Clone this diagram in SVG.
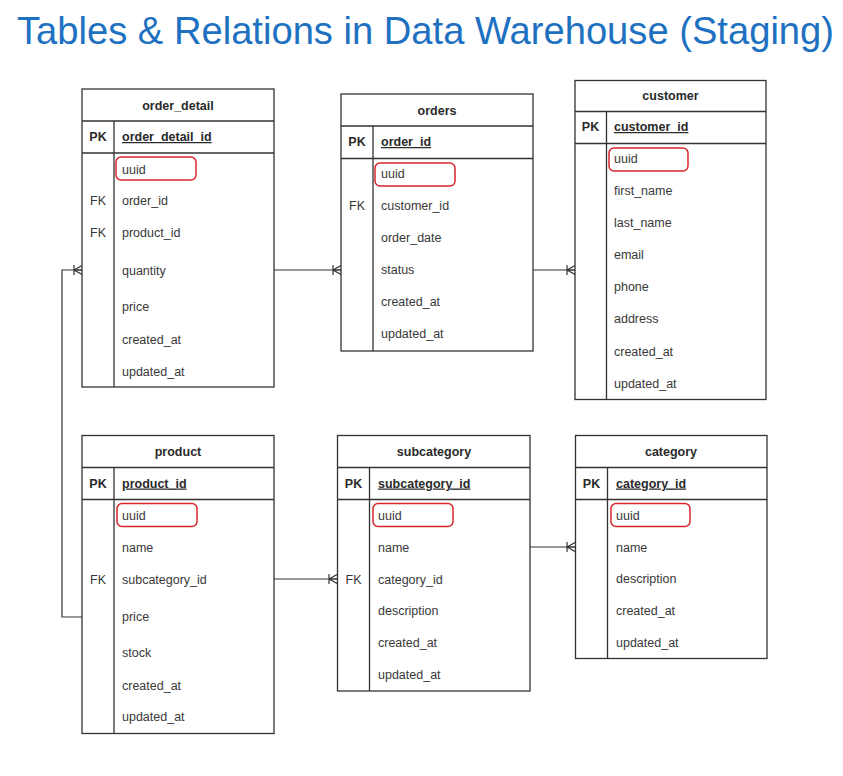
<svg xmlns="http://www.w3.org/2000/svg" width="843" height="776" viewBox="0 0 843 776">
<style>
.bg{fill:#ffffff}
.title{font-family:"Liberation Sans",Arial,sans-serif;font-size:38.2px;fill:#1e70c1}
.box{fill:#ffffff;stroke:#333333;stroke-width:1.3}
.ln{stroke:#333333;stroke-width:1.3;fill:none}
.hd{font-family:"Liberation Sans",Arial,sans-serif;font-size:12.5px;font-weight:bold;fill:#2a2a2a;text-anchor:middle}
.pk{font-family:"Liberation Sans",Arial,sans-serif;font-size:12.5px;font-weight:bold;fill:#2a2a2a;text-anchor:middle}
.pkf{font-family:"Liberation Sans",Arial,sans-serif;font-size:12.5px;font-weight:bold;fill:#2a2a2a;text-decoration:underline}
.f{font-family:"Liberation Sans",Arial,sans-serif;font-size:12.5px;fill:#383838}
.fk{font-family:"Liberation Sans",Arial,sans-serif;font-size:12.5px;fill:#383838;text-anchor:middle}
.hl{fill:none;stroke:#d8262b;stroke-width:1.5}
.conn{stroke:#333333;stroke-width:1.2;fill:none}
</style>
<defs>
<marker id="crow" viewBox="0 0 12 12" refX="12" refY="6" markerWidth="12" markerHeight="12" orient="auto" markerUnits="userSpaceOnUse">
<path d="M4,1 V11 M4,6 L12,1.5 M4,6 L12,10.5 M4,6 H12" fill="none" stroke="#333333" stroke-width="1.2"/>
</marker>
</defs>
<rect class="bg" x="0" y="0" width="843" height="776"/>
<text class="title" x="17" y="44" textLength="817" lengthAdjust="spacingAndGlyphs">Tables &amp; Relations in Data Warehouse (Staging)</text>

<g id="connectors">
<path class="conn" d="M274,270 H341" marker-end="url(#crow)"/>
<path class="conn" d="M533,270 H575" marker-end="url(#crow)"/>
<path class="conn" d="M82,617 H62 V270 H82" marker-end="url(#crow)"/>
<path class="conn" d="M274,579 H337" marker-end="url(#crow)"/>
<path class="conn" d="M530,547 H575" marker-end="url(#crow)"/>
</g>

<g id="order_detail">
<rect class="box" x="82" y="89" width="192" height="298"/>
<path class="ln" d="M82,121 H274 M82,153 H274 M114,121 V387"/>
<text class="hd" x="178" y="109.5">order_detail</text>
<text class="pk" x="98" y="141">PK</text>
<text class="pkf" x="122" y="141">order_detail_id</text>
<rect class="hl" x="116" y="157" width="80" height="23" rx="5"/>
<text class="f" x="122" y="173.5">uuid</text>
<text class="fk" x="98" y="204.5">FK</text>
<text class="f" x="122" y="204.5">order_id</text>
<text class="fk" x="98" y="236.5">FK</text>
<text class="f" x="122" y="236.5">product_id</text>
<text class="f" x="122" y="274.5">quantity</text>
<text class="f" x="122" y="311">price</text>
<text class="f" x="122" y="343.5">created_at</text>
<text class="f" x="122" y="375.5">updated_at</text>
</g>

<g id="orders">
<rect class="box" x="341" y="94" width="192" height="257"/>
<path class="ln" d="M341,126 H533 M341,158.5 H533 M373,126 V351"/>
<text class="hd" x="437" y="114.5">orders</text>
<text class="pk" x="357" y="146">PK</text>
<text class="pkf" x="381" y="146">order_id</text>
<rect class="hl" x="375" y="163" width="80" height="23" rx="5"/>
<text class="f" x="381" y="178">uuid</text>
<text class="fk" x="357" y="210">FK</text>
<text class="f" x="381" y="210">customer_id</text>
<text class="f" x="381" y="242">order_date</text>
<text class="f" x="381" y="274">status</text>
<text class="f" x="381" y="305.5">created_at</text>
<text class="f" x="381" y="337.5">updated_at</text>
</g>

<g id="customer">
<rect class="box" x="575" y="80.5" width="191" height="319"/>
<path class="ln" d="M575,111.5 H766 M575,143.5 H766 M606.5,111.5 V399.5"/>
<text class="hd" x="670.5" y="99.5">customer</text>
<text class="pk" x="590.5" y="131">PK</text>
<text class="pkf" x="614" y="131">customer_id</text>
<rect class="hl" x="609" y="148" width="79" height="23" rx="5"/>
<text class="f" x="614" y="163">uuid</text>
<text class="f" x="614" y="194.5">first_name</text>
<text class="f" x="614" y="227">last_name</text>
<text class="f" x="614" y="258.5">email</text>
<text class="f" x="614" y="290.5">phone</text>
<text class="f" x="614" y="322.5">address</text>
<text class="f" x="614" y="355.5">created_at</text>
<text class="f" x="614" y="387.5">updated_at</text>
</g>

<g id="product">
<rect class="box" x="82" y="435.5" width="192" height="298"/>
<path class="ln" d="M82,467.5 H274 M82,499.5 H274 M114,467.5 V733.5"/>
<text class="hd" x="178" y="455.5">product</text>
<text class="pk" x="98" y="487.5">PK</text>
<text class="pkf" x="122" y="487.5">product_id</text>
<rect class="hl" x="117" y="503.5" width="80" height="23" rx="5"/>
<text class="f" x="122" y="519.5">uuid</text>
<text class="f" x="122" y="551.5">name</text>
<text class="fk" x="98" y="583.5">FK</text>
<text class="f" x="122" y="583.5">subcategory_id</text>
<text class="f" x="122" y="620.5">price</text>
<text class="f" x="122" y="657">stock</text>
<text class="f" x="122" y="689.5">created_at</text>
<text class="f" x="122" y="721">updated_at</text>
</g>

<g id="subcategory">
<rect class="box" x="337.5" y="435.5" width="192.5" height="255.5"/>
<path class="ln" d="M337.5,467.5 H530 M337.5,499.5 H530 M369.5,467.5 V691"/>
<text class="hd" x="434" y="455.5">subcategory</text>
<text class="pk" x="353.5" y="487.5">PK</text>
<text class="pkf" x="378" y="487.5">subcategory_id</text>
<rect class="hl" x="373" y="503.5" width="80" height="23" rx="5"/>
<text class="f" x="378" y="519.5">uuid</text>
<text class="f" x="378" y="551.5">name</text>
<text class="fk" x="353.5" y="583.5">FK</text>
<text class="f" x="378" y="583.5">category_id</text>
<text class="f" x="378" y="615">description</text>
<text class="f" x="378" y="646.5">created_at</text>
<text class="f" x="378" y="678.5">updated_at</text>
</g>

<g id="category">
<rect class="box" x="575.5" y="435.5" width="191.5" height="223"/>
<path class="ln" d="M575.5,467.5 H767 M575.5,499.5 H767 M607.5,467.5 V658.5"/>
<text class="hd" x="671" y="455.5">category</text>
<text class="pk" x="591.5" y="487.5">PK</text>
<text class="pkf" x="616" y="487.5">category_id</text>
<rect class="hl" x="611" y="503.5" width="79" height="23" rx="5"/>
<text class="f" x="616" y="519.5">uuid</text>
<text class="f" x="616" y="551.5">name</text>
<text class="f" x="616" y="583">description</text>
<text class="f" x="616" y="615">created_at</text>
<text class="f" x="616" y="646.5">updated_at</text>
</g>
</svg>
